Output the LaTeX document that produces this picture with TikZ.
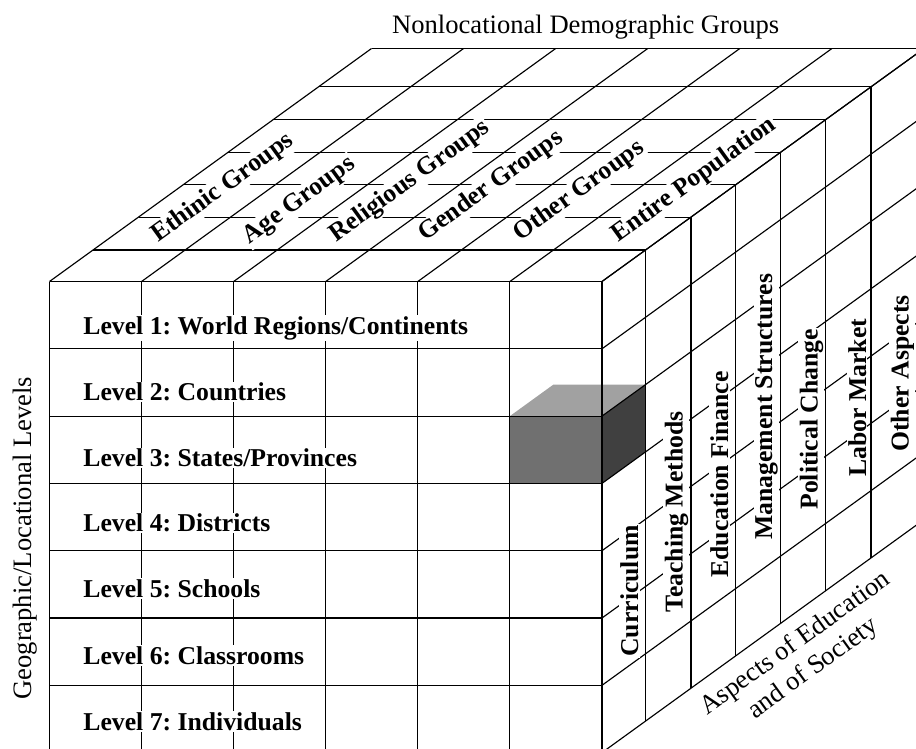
\documentclass[tikz,border=0pt]{standalone}
\usepackage{fontspec}
\setmainfont{Liberation Serif}
\frenchspacing
\definecolor{cubetop}{gray}{0.63}
\definecolor{cubefront}{gray}{0.44}
\definecolor{cubeside}{gray}{0.25}
\begin{document}
\begin{tikzpicture}[x=1pt,y=-1pt,
  gridline/.style={line width=1.15pt,black},
  lbl/.style={font=\fontsize{25.7}{30}\selectfont\bfseries,inner sep=1.2pt,fill=white},
  ttl/.style={font=\fontsize{26.6}{30}\selectfont,inner sep=1.2pt},
  toplbl/.style={lbl,rotate=35.9,anchor=base west},
  sidelbl/.style={lbl,rotate=90,anchor=base west},
  frontlbl/.style={lbl,anchor=base west}]
\useasboundingbox (0,0) rectangle (916,749);
\clip (0,0) rectangle (916,749);

% highlighted cell (small cube)
\fill[cubetop] (509.9,416.1) -- (553.4,384.6) -- (645.5,384.6) -- (602,416.1) -- cycle;
\fill[cubefront] (509.9,416.1) rectangle (602,483.4);
\fill[cubeside] (602,416.1) -- (645.5,384.6) -- (645.5,451.9) -- (602,483.4) -- cycle;

% front face grid
\foreach \i in {0,...,6}
  \draw[gridline] ({49.5+92.083*\i},281.5) -- ({49.5+92.083*\i},752.6);
\foreach \j in {0,...,7}
  \draw[gridline] (49.5,{281.5+67.3*\j}) -- (602,{281.5+67.3*\j});

% top face
\foreach \d in {43.5,89,133.5,178.5,223.5,269,322}
  \draw[gridline] ({49.5+\d},{281.5-0.7235*\d}) -- ({602+\d},{281.5-0.7235*\d});
\foreach \i in {0,...,6}
  \draw[gridline] ({49.5+92.083*\i},281.5) -- ++(322,-233);

% right face
\foreach \d in {43.5,89,133.5,178.5,223.5,269,322}
  \draw[gridline] ({602+\d},{281.5-0.7235*\d}) -- ++(0,471.1);
\foreach \j in {0,...,7}
  \draw[gridline] (602,{281.5+67.3*\j}) -- ++(322,-233);

% axis titles
\node[ttl,anchor=base] (tNon) at (585.7,33.3) {Nonlocational Demographic Groups};
\node[ttl,rotate=90,anchor=base west] (tGeo) at (31.5,701) {Geographic/Locational Levels};
\node[ttl,fill=white,rotate=35.9,anchor=base] (tAsp1) at (799.4,649.2) {Aspects of Education};
\node[ttl,fill=white,rotate=35.9,anchor=base] (tAsp2) at (817.4,674.1) {and of Society};

% front labels
\node[frontlbl] (L1) at (82,334) {Level 1: World Regions/Continents};
\node[frontlbl] (L2) at (82,400.7) {Level 2: Countries};
\node[frontlbl] (L3) at (82,466.7) {Level 3: States/Provinces};
\node[frontlbl] (L4) at (82,531.7) {Level 4: Districts};
\node[frontlbl] (L5) at (82,597.3) {Level 5: Schools};
\node[frontlbl] (L6) at (82,664) {Level 6: Classrooms};
\node[frontlbl] (L7) at (82,730) {Level 7: Individuals};

% top labels
\node[toplbl] (g1) at (157,243.5) {Ethinic Groups};
\node[toplbl] (g2) at (248.5,245) {Age Groups};
\node[toplbl] (g3) at (335.5,243) {Religious Groups};
\node[toplbl] (g4) at (424,242.5) {Gender Groups};
\node[toplbl] (g5) at (519,242.5) {Other Groups};
\node[toplbl] (g6) at (617.5,243.5) {Entire Population};

% side labels
\node[sidelbl] (a1) at (638,658) {Curriculum};
\node[sidelbl] (a2) at (682.5,614) {Teaching Methods};
\node[sidelbl] (a3) at (728,579) {Education Finance};
\node[sidelbl] (a4) at (772,541) {Management Structures};
\node[sidelbl] (a5) at (817.5,511) {Political Change};
\node[sidelbl] (a6) at (866,478) {Labor Market};
\node[sidelbl] (a7) at (908.5,453) {Other Aspects};
\end{tikzpicture}
\end{document}
